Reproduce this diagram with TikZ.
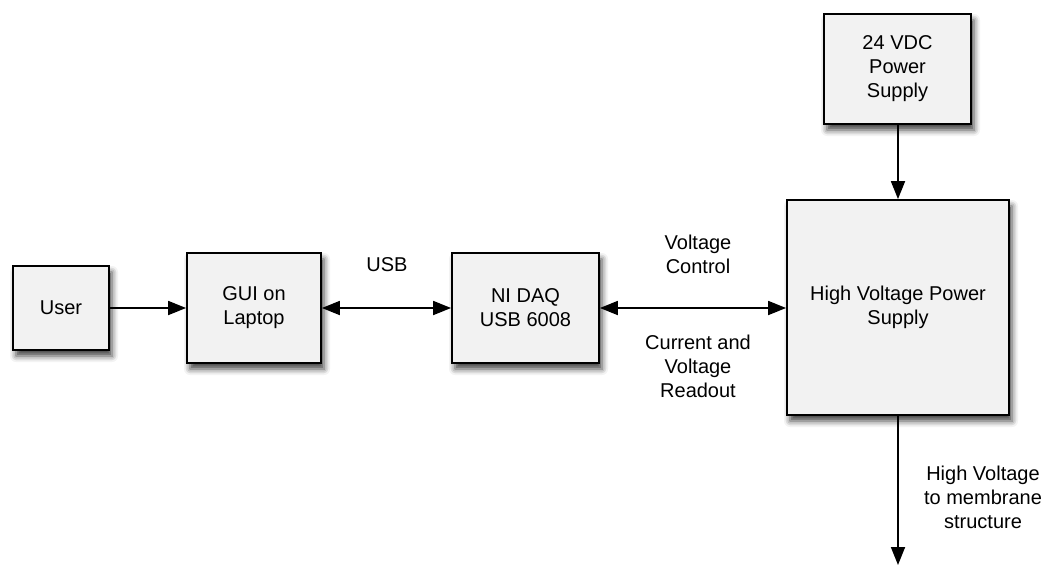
\documentclass[tikz,border=0pt]{standalone}
\usepackage{fontspec}
\setmainfont{Liberation Sans}
\usetikzlibrary{arrows.meta,shadows.blur}
\definecolor{boxfill}{HTML}{F2F2F2}
\tikzset{
  blk/.style={draw=black, line width=1.8pt, fill=boxfill, align=center, inner sep=0pt,
    blur shadow={shadow xshift=3pt, shadow yshift=-6pt, shadow blur radius=6pt, shadow opacity=75}},
  lbl/.style={align=center, inner sep=0pt},
  conn/.style={line width=1.8pt, -{Triangle[length=18pt,width=14pt]}},
  bconn/.style={line width=1.8pt, {Triangle[length=18pt,width=14pt]}-{Triangle[length=18pt,width=14pt]}}
}
\begin{document}
\begin{tikzpicture}[x=1pt,y=-1pt, font=\fontsize{20pt}{24pt}\selectfont]
\useasboundingbox (0,0) rectangle (1045,566);
\node[blk, minimum width=96pt, minimum height=84pt] (user) at (61,308) {User};
\node[blk, minimum width=134pt, minimum height=110pt] (gui) at (254,308) {GUI on\\Laptop};
\node[blk, minimum width=147pt, minimum height=110pt] (daq) at (525.5,308) {NI DAQ\\USB 6008};
\node[blk, minimum width=147pt, minimum height=110pt] (vdc) at (897.5,69) {24 VDC\\Power\\Supply};
\node[blk, minimum width=222pt, minimum height=215pt] (hv) at (898,307.5) {High Voltage Power\\Supply};
\coordinate (out) at (898,565);
\draw[conn] (user) -- (gui);
\draw[bconn] (gui) -- (daq);
\draw[bconn] (daq.east) -- (daq.east -| hv.west);
\draw[conn] (vdc.south -| hv.north) -- (hv.north);
\draw[conn] (hv.south) -- (out);
\node[lbl] (usb) at (387,265) {USB};
\node[lbl] (vc) at (698,254) {Voltage\\Control};
\node[lbl] (cvr) at (698,366) {Current and\\Voltage\\Readout};
\node[lbl] (hvm) at (983,497) {High Voltage\\to membrane\\structure};
\end{tikzpicture}
\end{document}
